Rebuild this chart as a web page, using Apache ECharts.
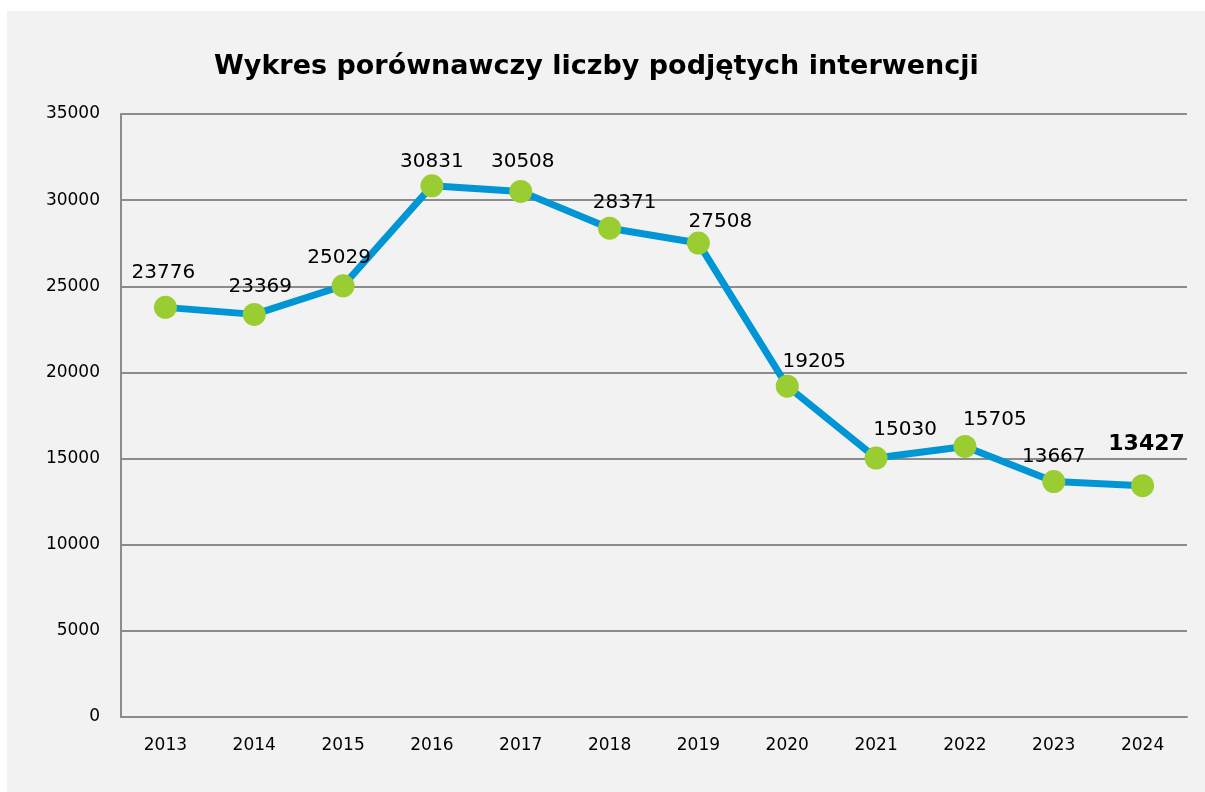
<!DOCTYPE html>
<html>
<head>
<meta charset="utf-8">
<style>
  html, body { margin: 0; padding: 0; background: #ffffff; }
  #chart { position: absolute; left: 7px; top: 11px; width: 1198px; height: 781px; }
</style>
<script src="https://cdn.jsdelivr.net/npm/echarts@6/dist/echarts.min.js"></script>
</head>
<body>
<div id="chart"></div>
<script>
// lata i liczba interwencji
const years = ['2013', '2014', '2015', '2016', '2017', '2018', '2019', '2020', '2021', '2022', '2023', '2024']
const interventions = [23776, 23369, 25029, 30831, 30508, 28371, 27508, 19205, 15030, 15705, 13667, 13427]
const yTicks = [0, 5000, 10000, 15000, 20000, 25000, 30000, 35000]

// przesunięcia etykiet (jak w oryginale z Excela)
const labelShift = [[-2, -7], [6, 0], [-4, 0], [0, 3], [2, -2], [15, 2], [22, 6], [27, 3], [29, -1], [30, 1], [0, 3], [4, -13]]

const chart = echarts.init(document.getElementById('chart'))

const seriesData = interventions.map((v, i) => {
  const last = i === interventions.length - 1
  return {
    value: v,
    label: {
      offset: labelShift[i],
      fontWeight: last ? 'bold' : 'normal',
      fontSize: last ? 22 : 20,
    },
  }
})

chart.setOption({
  backgroundColor: '#f2f2f2',
  textStyle: { fontFamily: 'DejaVu Sans' },
  title: {
    text: 'Wykres porównawczy liczby podjętych interwencji',
    left: 207,
    top: 42,
    padding: 0,
    textStyle: { fontSize: 27, fontWeight: 'bold', color: '#000', fontFamily: 'DejaVu Sans' },
  },
  grid: { left: 114, right: 18, top: 103, bottom: 75 },
  xAxis: {
    type: 'category',
    data: years,
    boundaryGap: true,
    axisLine: { lineStyle: { color: '#8c8c8c', width: 2 } },
    axisTick: { show: false },
    axisLabel: { color: '#000', fontSize: 17, margin: 20 },
  },
  yAxis: {
    type: 'value',
    min: yTicks[0],
    max: yTicks[yTicks.length - 1],
    interval: 5000,
    axisLine: { show: true, lineStyle: { color: '#8c8c8c', width: 2 } },
    axisTick: { show: false },
    splitLine: { lineStyle: { color: '#8c8c8c', width: 2 } },
    axisLabel: { color: '#000', fontSize: 17, margin: 21, formatter: v => String(v) },
  },
  series: [
    {
      type: 'line',
      data: seriesData,
      symbol: 'circle',
      symbolSize: 23,
      lineStyle: { color: '#0096d6', width: 7 },
      itemStyle: { color: '#9acd32' },
      label: { show: true, position: 'top', distance: 6, color: '#000', fontSize: 20 },
      animation: false,
    },
  ],
})
</script>
</body>
</html>
